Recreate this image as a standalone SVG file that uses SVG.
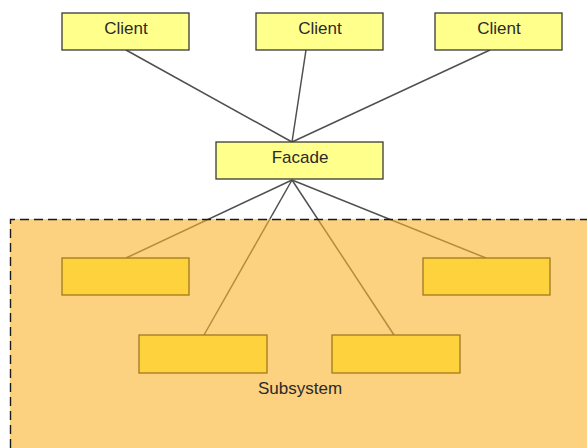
<svg xmlns="http://www.w3.org/2000/svg" width="587" height="448" viewBox="0 0 587 448">
  <style>
    .cls { fill: #ffff8c; stroke: #3a3a3a; stroke-width: 1.3; }
    .sub { fill: #fdd23c; stroke: #a07a1e; stroke-width: 1.3; }
    .lbl { font-family: "Liberation Sans", Arial, sans-serif; font-size: 17px; fill: #2a2a2a; text-anchor: middle; }
    .wire { stroke: #505050; stroke-width: 1.5; fill: none; }
  </style>
  <rect width="587" height="448" fill="#ffffff"/>

  <g id="connectors">
    <line class="wire" x1="126" y1="50" x2="292" y2="142"/>
    <line class="wire" x1="306" y1="50" x2="292" y2="142"/>
    <line class="wire" x1="490" y1="50" x2="292" y2="142"/>
    <line class="wire" x1="292" y1="180" x2="126" y2="258"/>
    <line class="wire" x1="292" y1="180" x2="204" y2="335"/>
    <line class="wire" x1="292" y1="180" x2="394" y2="335"/>
    <line class="wire" x1="292" y1="180" x2="486" y2="258"/>
  </g>

  <!-- translucent package region tints the wires beneath it -->
  <g id="subsystem">
    <rect x="10" y="219" width="590" height="240" fill="#fab22b" fill-opacity="0.6" stroke="none"/>
    <path d="M10.5 448 V219.5 H587" fill="none" stroke="#1a1a1a" stroke-width="1.4" stroke-dasharray="9 5"/>
    <text class="lbl" x="300" y="394">Subsystem</text>
  </g>

  <g id="client1">
    <rect class="cls" x="62" y="13" width="127" height="37"/>
    <text class="lbl" x="126" y="34">Client</text>
  </g>
  <g id="client2">
    <rect class="cls" x="256" y="13" width="127" height="37"/>
    <text class="lbl" x="320" y="34">Client</text>
  </g>
  <g id="client3">
    <rect class="cls" x="435" y="13" width="127" height="37"/>
    <text class="lbl" x="499" y="34">Client</text>
  </g>

  <g id="facade">
    <rect class="cls" x="216" y="142" width="167" height="37"/>
    <text class="lbl" x="300" y="163">Facade</text>
  </g>

  <g id="part1"><rect class="sub" x="62" y="258" width="127" height="37"/></g>
  <g id="part2"><rect class="sub" x="139" y="335" width="128" height="38"/></g>
  <g id="part3"><rect class="sub" x="332" y="335" width="128" height="38"/></g>
  <g id="part4"><rect class="sub" x="423" y="258" width="127" height="37"/></g>
</svg>
